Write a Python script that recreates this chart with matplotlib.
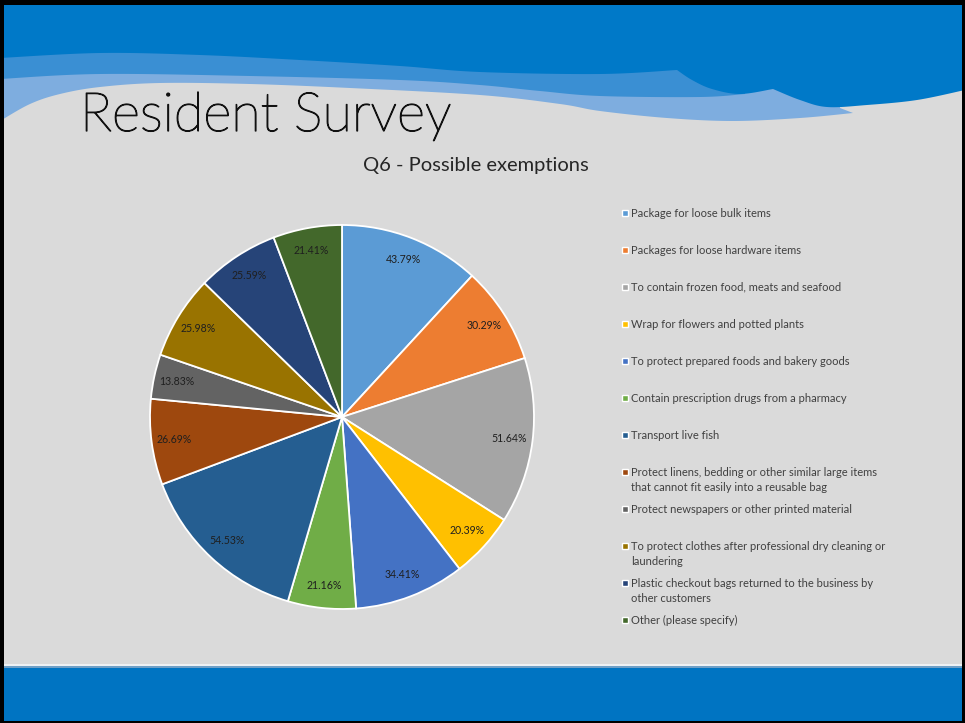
import numpy as np
import matplotlib
matplotlib.use("Agg")
import matplotlib.pyplot as plt
from matplotlib.patches import Polygon, Rectangle
import matplotlib.patheffects as pe

# Q6 answers (share of respondents, %)
categories = [
    "Package for loose bulk items",
    "Packages for loose hardware items",
    "To contain frozen food, meats and seafood",
    "Wrap for flowers and potted plants",
    "To protect prepared foods and bakery goods",
    "Contain prescription drugs from a pharmacy",
    "Transport live fish",
    "Protect linens, bedding or other similar large items\nthat cannot fit easily into a reusable bag",
    "Protect newspapers or other printed material",
    "To protect clothes after professional dry cleaning or\nlaundering",
    "Plastic checkout bags returned to the business by\nother customers",
    "Other (please specify)",
]
percentages = [43.79, 30.29, 51.64, 20.39, 34.41, 21.16, 54.53, 26.69, 13.83, 25.98, 25.59, 21.41]
slice_colors = ["#5B9BD5", "#ED7D31", "#A5A5A5", "#FFC000", "#4472C4", "#70AD47",
                "#255E91", "#9E480E", "#636363", "#997300", "#264478", "#43682B"]

W, H = 965, 723
plt.rcParams["font.family"] = ["Lato", "DejaVu Sans"]


def smooth(pts, n=24):
    # catmull-rom through the given points
    pts = np.asarray(pts, float)
    p = np.vstack([pts[0], pts, pts[-1]])
    out = []
    t = np.linspace(0, 1, n, endpoint=False)[:, None]
    for i in range(1, len(p) - 2):
        p0, p1, p2, p3 = p[i - 1], p[i], p[i + 1], p[i + 2]
        out.append(0.5 * (2 * p1 + (-p0 + p2) * t + (2 * p0 - 5 * p1 + 4 * p2 - p3) * t ** 2
                          + (-p0 + 3 * p1 - 3 * p2 + p3) * t ** 3))
    out.append(pts[-1:])
    return np.vstack(out)


fig = plt.figure(figsize=(W / 100, H / 100), dpi=100)
fig.patch.set_facecolor("white")

bg = fig.add_axes([0, 0, 1, 1])
bg.set_xlim(0, W)
bg.set_ylim(H, 0)
bg.axis("off")

bg.add_patch(Rectangle((0, 0), W, H, color="#DADADA", zorder=0))

# header waves, back to front
light_edge = smooth([(0, 121), (30, 104), (60, 94), (100, 87), (160, 83), (250, 84), (350, 88),
                     (480, 95), (560, 104), (600, 111), (667, 118), (733, 121), (800, 118), (853, 113)])
bg.add_patch(Polygon(np.vstack([[(0, 0)], light_edge, [(840, 108), (840, 0)]]),
                     color="#7EADDF", lw=0, zorder=1))

mid_edge = smooth([(0, 79), (100, 74), (250, 76), (400, 80), (480, 85), (540, 91), (600, 96),
                   (700, 97), (745, 94)])
bg.add_patch(Polygon(np.vstack([[(0, 0)], mid_edge, [(745, 0)]]),
                     color="#3A8FD3", lw=0, zorder=2))

dark_a = smooth([(0, 58), (100, 53), (200, 55), (300, 60), (400, 66), (480, 72), (600, 74), (677, 70)])
dark_b = smooth([(677, 70), (692, 80), (712, 89), (740, 94), (773, 89)])
dark_c = smooth([(773, 89), (800, 100), (827, 107), (867, 105), (917, 100), (965, 90)])
bg.add_patch(Polygon(np.vstack([[(0, 0)], dark_a, dark_b, dark_c, [(965, 0)]]),
                     color="#0079C8", lw=0, zorder=3))

# footer band
bg.add_patch(Rectangle((0, 664), W, 2, color="#EEF1F3", lw=0, zorder=3))
bg.add_patch(Rectangle((0, 666), W, 2, color="#6F9FC6", lw=0, zorder=3))
bg.add_patch(Rectangle((0, 668), W, H - 668, color="#0074C2", lw=0, zorder=3))

# slide frame
for x, y, w, h in [(0, 0, 4, H), (0, 0, W, 5), (962, 0, 3, H), (0, 721, W, 2)]:
    bg.add_patch(Rectangle((x, y), w, h, color="black", lw=0, zorder=5))

bg.text(80, 131, "Resident Survey", fontsize=39, fontweight="light", color="#111111",
        ha="left", va="baseline", zorder=6,
        path_effects=[pe.withStroke(linewidth=0.9, foreground="#111111")])
bg.text(476, 171, "Q6 - Possible exemptions", fontsize=14.5, color="#262626",
        ha="center", va="baseline", zorder=6)

# legend, one slot per answer; wrapped names continue below the first line
row_y0, row_step, line_step = 213, 37, 15
for i, (name, col) in enumerate(zip(categories, slice_colors)):
    y = row_y0 + i * row_step
    bg.add_patch(Rectangle((621.5, y - 3.5), 6.5, 6.5, facecolor=col, edgecolor="white", lw=1.0, zorder=6))
    for k, line in enumerate(name.split("\n")):
        bg.text(631, y + 3.8 + k * line_step, line, fontsize=8, color="#404040",
                ha="left", va="baseline", zorder=6)

# pie
cx, cy, r = 342, 417, 192
pie_ax = fig.add_axes([(cx - r) / W, (H - cy - r) / H, 2 * r / W, 2 * r / H])
pie_ax.set_facecolor("none")
wedges, texts = pie_ax.pie(percentages, colors=slice_colors, startangle=90, counterclock=False,
                           labels=[f"{v:.2f}%" for v in percentages], labeldistance=0.88,
                           wedgeprops=dict(edgecolor="white", linewidth=1.3),
                           textprops=dict(fontsize=7.6, color="#1F1F1F"))
for t in texts:
    t.set_ha("center")
    t.set_va("center")
pie_ax.set_xlim(-1, 1)
pie_ax.set_ylim(-1, 1)
pie_ax.set_aspect("equal")

fig.savefig("out.png", dpi=100)
